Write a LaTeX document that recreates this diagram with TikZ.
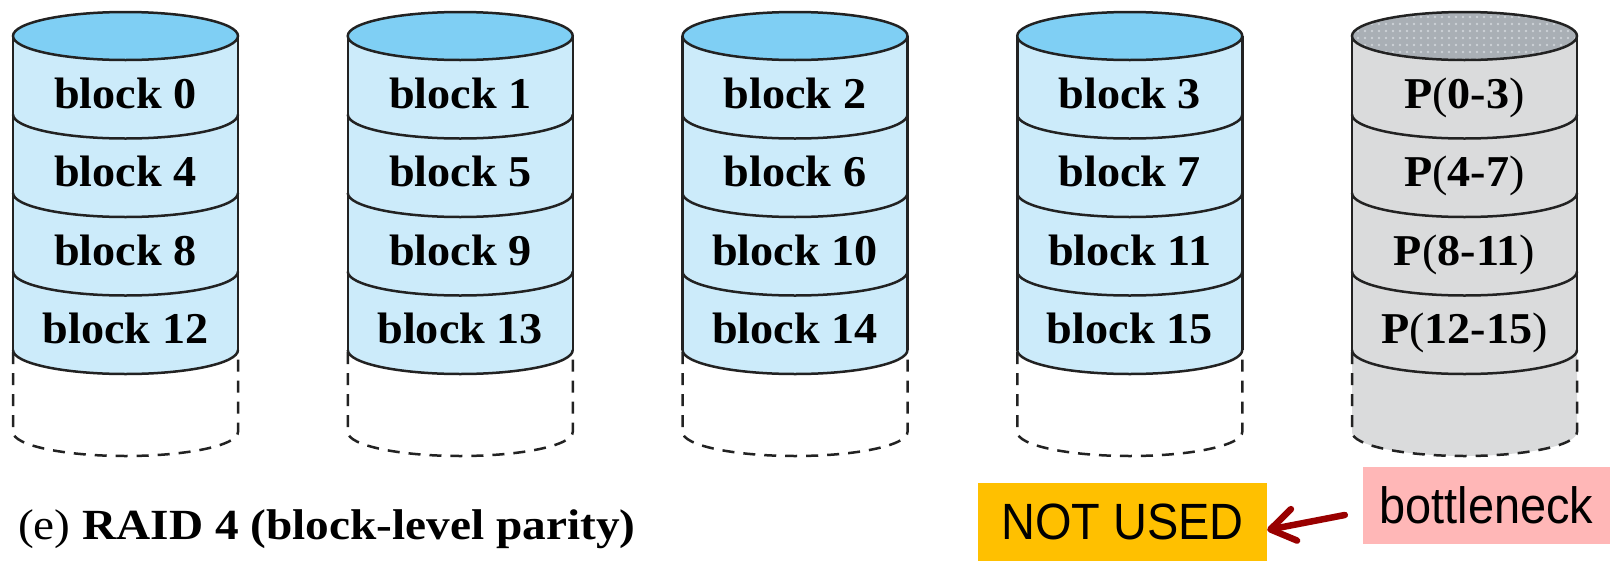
\documentclass[tikz,border=0pt]{standalone}
\usepackage{fontspec}
\setmainfont{Liberation Serif}
\newfontfamily\serifwide{Liberation Serif}[FakeStretch=1.05]
\newfontfamily\captionwide{Liberation Serif}[FakeStretch=1.1]
\newfontfamily\slidesans{Liberation Sans}[FakeStretch=0.92]
\usetikzlibrary{arrows.meta,patterns.meta}

\definecolor{diskbody}{HTML}{CCEBFA}
\definecolor{disktop}{HTML}{7FCFF4}
\definecolor{paritybody}{HTML}{DADBDC}
\definecolor{paritytop}{HTML}{A9AFB5}
\definecolor{paritydot}{HTML}{CDD2D7}
\definecolor{outline}{HTML}{222222}
\definecolor{unusedfill}{HTML}{FFC000}
\definecolor{neckfill}{HTML}{FFB7B7}
\definecolor{arrowred}{HTML}{990000}

% radii of the disk ellipses
\def\rx{112.5}
\def\ry{24}

% one disk: #1 centre x, #2 colour of the used stack, #3 fill of the spare part
\newcommand\drawdisk[3]{%
  % spare (dashed) part below the stripes
  \path[fill=#3] (#1-\rx,-350) -- (#1-\rx,-432)
    arc[start angle=180,end angle=360,x radius=\rx,y radius=\ry] -- (#1+\rx,-350) -- cycle;
  \draw[ghost] (#1-\rx,-352) -- (#1-\rx,-432)
    arc[start angle=180,end angle=360,x radius=\rx,y radius=\ry] -- (#1+\rx,-352);
  % used stack of four stripes
  \path[fill=#2] (#1-\rx,-36) -- (#1-\rx,-350)
    arc[start angle=180,end angle=360,x radius=\rx,y radius=\ry] -- (#1+\rx,-36) -- cycle;
  \draw[rim] (#1-\rx,-36) -- (#1-\rx,-350);
  \draw[rim] (#1+\rx,-36) -- (#1+\rx,-350);
  \foreach \cy in {-114.5,-193,-271.5,-350}
    \draw[rim] (#1-\rx,\cy) arc[start angle=180,end angle=360,x radius=\rx,y radius=\ry];
}

\begin{document}
\begin{tikzpicture}[x=1pt,y=1pt,
  rim/.style={draw=outline,line width=2.5pt},
  ghost/.style={draw=outline,line width=2.5pt,dash pattern=on 12pt off 9pt},
  blocktext/.style={inner sep=0pt,anchor=base,
    font=\serifwide\bfseries\fontsize{44}{50}\selectfont},
  slidetag/.style={inner sep=0pt,font=\slidesans\fontsize{51}{56}\selectfont},
]
\useasboundingbox (0,0) rectangle (1610,-563);

% four data disks
\foreach \col in {0,...,3} {
  \pgfmathsetmacro\cx{125.5+334.75*\col}
  \drawdisk{\cx}{diskbody}{none}
  \draw[rim,fill=disktop] (\cx,-36) ellipse[x radius=\rx,y radius=\ry];
  \foreach \row in {0,...,3} {
    \pgfmathtruncatemacro\n{4*\row+\col}
    \node[blocktext] (b\n) at (\cx,{-108-78.5*\row}) {block \n};
  }
}

% parity disk
\def\px{1464.5}
\drawdisk{\px}{paritybody}{paritybody}
\path[fill=paritytop] (\px,-36) ellipse[x radius=\rx,y radius=\ry];
\path[pattern={Dots[distance=7pt,radius=1.3pt]},pattern color=paritydot]
  (\px,-36) ellipse[x radius=\rx,y radius=\ry];
\draw[rim] (\px,-36) ellipse[x radius=\rx,y radius=\ry];
\node[blocktext] (p0) at (\px,-108)   {P{\mdseries(}0-3{\mdseries)}};
\node[blocktext] (p1) at (\px,-186.5) {P{\mdseries(}4-7{\mdseries)}};
\node[blocktext] (p2) at (\px,-265)   {P{\mdseries(}8-11{\mdseries)}};
\node[blocktext] (p3) at (\px,-343.5) {P{\mdseries(}12-15{\mdseries)}};

% caption
\node[inner sep=0pt,anchor=base west,font=\captionwide\fontsize{43}{48}\selectfont]
  (cap) at (18,-539) {(e) \textbf{RAID 4 (block-level parity)}};

% remarks
\node[slidetag,fill=unusedfill,minimum width=289pt,minimum height=78pt]
  (nu) at (1122.5,-522) {NOT USED};
\node[slidetag,fill=neckfill,minimum width=247pt,minimum height=77pt]
  (bn) at (1486.5,-505.5) {bottleneck};
\draw[arrowred,line width=6.5pt,line cap=round,
  -{Straight Barb[length=24pt,width=32pt,line cap=round,line join=round]}]
  ([xshift=-18pt,yshift=-9.5pt]bn.west) -- ([yshift=-8pt]nu.east);
\end{tikzpicture}
\end{document}
